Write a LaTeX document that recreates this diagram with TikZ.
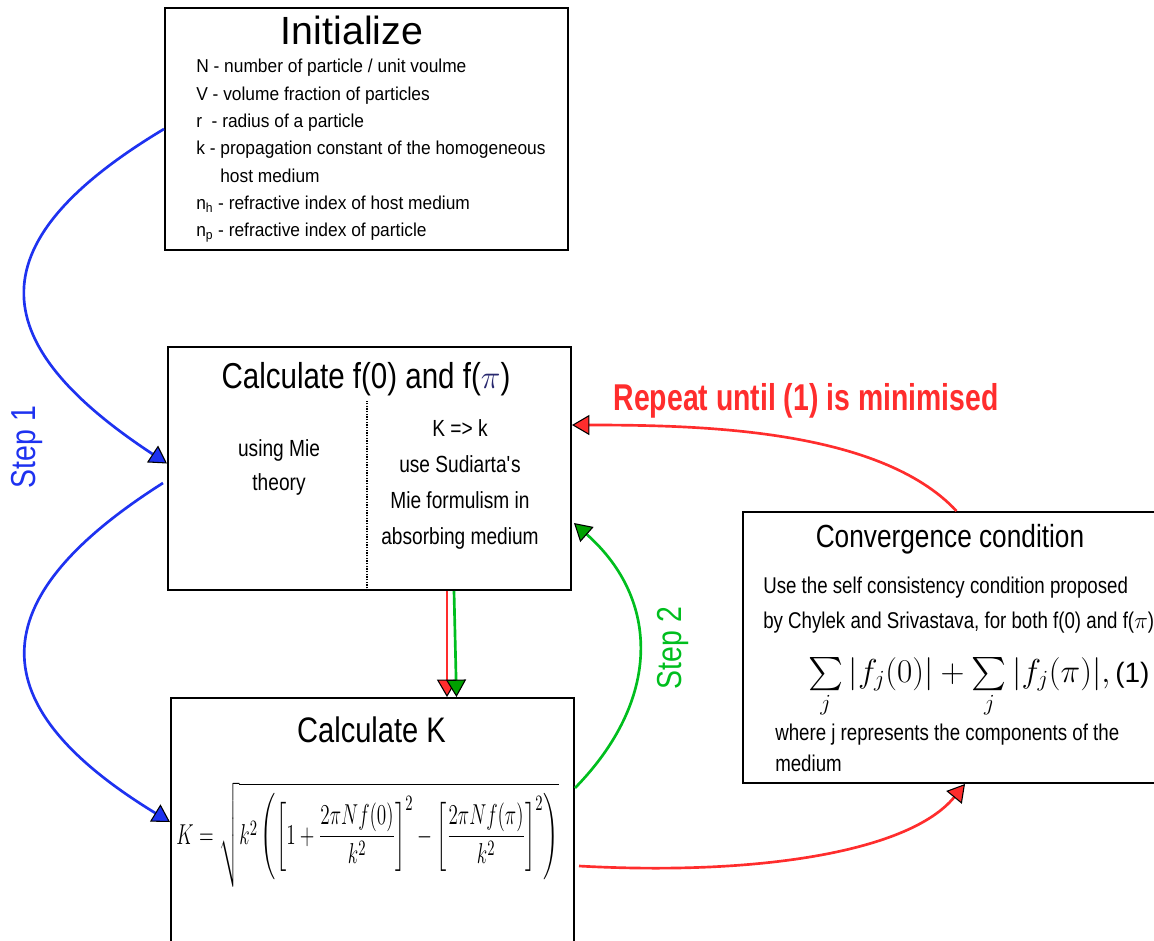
\documentclass[tikz,border=0pt]{standalone}
\usepackage{amsmath}
\usepackage[no-math]{fontspec}
\setmainfont{Liberation Sans}
\newfontfamily\narrowfont{Liberation Sans}[FakeStretch=0.82]
\newfontfamily\initfont{Liberation Sans}[FakeStretch=0.93]
\newfontfamily\repeatfont{Liberation Sans}[FakeStretch=0.76]
\usetikzlibrary{arrows.meta,positioning,calc}
\definecolor{stepblue}{RGB}{30,50,240}
\definecolor{loopred}{RGB}{255,45,45}
\definecolor{stepgreen}{RGB}{0,190,30}
\definecolor{tipgreen}{RGB}{0,160,0}
\definecolor{piblue}{RGB}{40,40,110}
% rows of text, baseline on the first row
\newcommand{\textrows}[2]{\begin{tabular}[t]{@{}#1@{}}#2\end{tabular}}

\begin{document}
\begin{tikzpicture}[x=0.75pt,y=-0.75pt,
box/.style={rectangle, draw, line width=1.5pt, inner sep=0pt},
headtext/.style={anchor=base, font=\narrowfont\fontsize{27}{30}\selectfont},
bodytext/.style={anchor=base, inner sep=0pt, font=\narrowfont\fontsize{17.5}{27}\selectfont},
steptext/.style={rotate=90, font=\narrowfont\fontsize{26}{30}\selectfont},
blueline/.style={stepblue, line width=2pt, -{Triangle[length=13pt,width=15pt,line width=0.8pt,color=black,fill=stepblue]}},
redline/.style={loopred, line width=2pt, -{Triangle[length=13pt,width=15pt,line width=0.8pt,color=black,fill=loopred]}},
greenline/.style={stepgreen, line width=2pt, -{Triangle[length=13pt,width=15pt,line width=0.8pt,color=black,fill=tipgreen]}}]
\useasboundingbox (0,0) rectangle (1154,940);
% Boxes
\node[box, minimum width=302.25pt, minimum height=181.5pt] (init) at (366.5,129) {};
\node[box, minimum width=302.25pt, minimum height=182.25pt] (calcf) at (369.5,468.5) {};
\node[box, minimum width=302.25pt, minimum height=186pt] (calcK) at (372.5,822) {};
\node[box, minimum width=320.25pt, minimum height=203.25pt] (conv) at (956.5,647.5) {};
% Texts
\node[anchor=base, font=\fontsize{29.5}{32}\selectfont] (initT) at (352,44) {Initialize};
\node[bodytext, anchor=base west, font=\initfont\fontsize{14}{20.5}\selectfont] (initL) at (196,72.7)
  {\textrows{l}{N - number of particle / unit voulme\\
   V - volume fraction of particles\\
   r~ - radius of a particle\\
   k - propagation constant of the homogeneous\\
   \hspace{18pt}host medium\\
   n\textsubscript{h} - refractive index of host medium\\
   n\textsubscript{p} - refractive index of particle}};
\node[headtext] (calcfT) at (366,388) {Calculate f(0) and f(\textcolor{piblue}{$\pi$})};
\node[bodytext, font=\narrowfont\fontsize{17.5}{25.5}\selectfont] (mie) at (279,456.7) {\textrows{c}{using Mie\\theory}};
\node[bodytext] (sud) at (460,436.7)
  {\textrows{c}{K => k\\use Sudiarta\textquotesingle s\\Mie formulism in\\absorbing medium}};
\node[headtext, font=\narrowfont\fontsize{26.6}{30}\selectfont] (calcKT) at (371.5,742.7) {Calculate K};
\node (kform) at (367.5,835) {\fontsize{15}{18}\selectfont\scalebox{1}[1.5]{$K=\sqrt{k^2\left(\left[1+\dfrac{2\pi Nf(0)}{k^2}\right]^2-\left[\dfrac{2\pi Nf(\pi)}{k^2}\right]^2\right)}$}};
\node[headtext, font=\narrowfont\fontsize{24}{28}\selectfont] (convT) at (950,547) {Convergence condition};
\node[bodytext, anchor=base west, font=\narrowfont\fontsize{17.1}{26.25}\selectfont] (convL) at (763,593)
  {\textrows{l}{Use the self consistency condition proposed\\by Chylek and Srivastava, for both f(0) and f($\pi$)}};
\node[bodytext, anchor=base west, font=\fontsize{23.5}{26}\selectfont] (sumF) at (808,682)
  {$\sum\limits_j|f_j(0)|+\sum\limits_j|f_j(\pi)|,$};
\node[bodytext, anchor=base west, font=\fontsize{21}{24}\selectfont] (eqno) at (1115,682) {(1)};
\node[bodytext, anchor=base west, font=\narrowfont\fontsize{17.1}{23.8}\selectfont] (compL) at (775,740)
  {\textrows{l}{where j represents the components of the\\medium}};
\node[anchor=base, text=loopred, font=\repeatfont\bfseries\fontsize{28}{30}\selectfont] (repeatL) at (806,410) {Repeat until (1) is minimised};
\node[steptext, text=stepblue] (step1) at (27,447) {Step 1};
\node[steptext, text=stepgreen] (step2) at (673,648) {Step 2};
% Lines
\draw[densely dotted, line width=1pt] ($(calcf.south)+(-2.5,0)$) -- ++(0,-190);
\draw[blueline] (init.west) .. controls +(-185,111) and +(-188,-123.5) .. ($(calcf.west)+(0,-5)$);
\draw[blueline] ($(calcf.west)+(-4,14.5)$) .. controls +(-184.5,117) and +(-190,-116) .. (calcK.west);
\draw[redline] ($(calcf.south)+(77.5,0)$) -- ($(calcK.north)+(74.5,0)$);
\draw[greenline] ($(calcf.south)+(84.5,0)$) -- ($(calcK.north)+(84,0)$);
\draw[greenline] ($(calcK.east)+(0,-34)$) .. controls +(86,-88) and +(86.5,77) .. ($(calcf.east)+(2,54.5)$);
\draw[redline] ($(calcK.east)+(4,44)$) .. controls +(182,10) and +(-55,67) .. ($(conv.south)+(8.5,0)$);
\draw[redline] (conv.north) .. controls +(-76.5,-82) and +(129,0) .. ($(calcf.east)+(0,-43.5)$);
\end{tikzpicture}
\end{document}
